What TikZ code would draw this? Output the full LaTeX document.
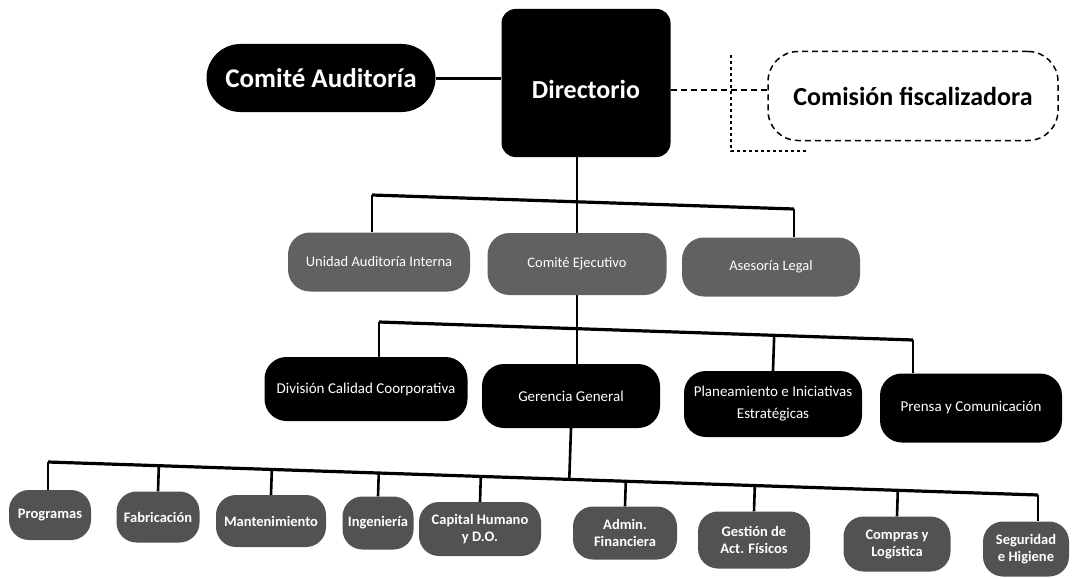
\documentclass[tikz,border=0pt]{standalone}
\usepackage{fontspec}
\setmainfont{Carlito}
\usetikzlibrary{calc}
\begin{document}
\begin{tikzpicture}[x=1pt,y=-1pt,
  blk/.style={fill=black, text=white, align=center, inner sep=0pt},
  gry/.style={fill=black!62, text=white, align=center, inner sep=0pt, rounded corners=22pt, font=\fontsize{14.5}{17}\selectfont},
  mid/.style={fill=black, text=white, align=center, inner sep=0pt, rounded corners=22pt, font=\fontsize{15}{22}\selectfont},
  bot/.style={fill=black!68, text=white, align=center, inner sep=0pt, rounded corners=20pt, font=\bfseries\fontsize{14.5}{17}\selectfont},
  bus/.style={line width=3.2pt},
  stub/.style={line width=2.6pt},
  dashline/.style={line width=1.5pt, dash pattern=on 6pt off 4pt},
  dotline/.style={line width=2.6pt, dash pattern=on 3pt off 3pt},
]
\useasboundingbox (0,0) rectangle (1078,578);
\fill[white] (0,0) rectangle (1078,578);

% top level
\node[blk, rounded corners=14pt, minimum width=169pt, minimum height=148pt,
      text height=30pt, text depth=0pt,
      font=\bfseries\fontsize{26}{30}\selectfont] (dir) at (586,83) {Directorio};
\node[blk, rounded corners=34pt, minimum width=229pt, minimum height=68pt,
      font=\bfseries\fontsize{27}{32}\selectfont] (ca) at (321,78) {Comité Auditoría};
\node[draw=black, dashline, rounded corners=30pt, minimum width=290pt, minimum height=89pt,
      inner sep=0pt, font=\bfseries\fontsize{26}{30}\selectfont] (cf) at (913,96) {Comisión fiscalizadora};

\draw[line width=3pt] (ca.east) -- (ca.east -| dir.west);
\draw[dashline] ($(dir.east)+(0,7)$) -- ($(cf.west)+(0,-6)$);
\coordinate (d1) at (731,55);
\coordinate (d2) at (731,151);
\coordinate (d3) at (806,151);
\draw[dotline] (d1) -- (d2) -- (d3);

% second level
\node[gry, minimum width=182pt, minimum height=59pt] (ua) at (379,262) {Unidad Auditoría Interna};
\node[gry, minimum width=179pt, minimum height=62pt] (ce) at (577,264) {Comité Ejecutivo};
\node[gry, minimum width=178pt, minimum height=59pt] (al) at (771,267) {Asesoría Legal};

\coordinate (b2L) at (372,195);
\coordinate (b2R) at (794,209);
\draw[bus] (b2L) -- (b2R);
\draw[stub] (b2L) -- (b2L |- ua.north);
\draw[stub] (b2R) -- (b2R |- al.north);
\draw[stub] (dir.south -| ce.north) -- (ce.north);

% third level
\node[mid, minimum width=203pt, minimum height=64pt] (dc) at (366,389) {División Calidad Coorporativa};
\node[mid, minimum width=178pt, minimum height=64pt] (gg) at (571,396) {Gerencia General};
\node[mid, minimum width=178pt, minimum height=66pt] (pi) at (773,404) {Planeamiento e Iniciativas\\Estratégicas};
\node[mid, minimum width=182pt, minimum height=69pt] (pc) at (971,408) {Prensa y Comunicación};

\coordinate (b3L) at (379,322);
\coordinate (b3R) at (913,340);
\draw[bus] (b3L) -- (b3R);
\draw[stub] (b3L) -- (b3L |- dc.north);
\draw[stub] (b3R) -- (b3R |- pc.north);
\draw[stub] ($(b3L)!(pi.north)!(b3R)$) -- (pi.north);
\draw[stub] (ce.south) -- (ce.south |- gg.north);

% bottom level
\node[bot, minimum width=82pt,  minimum height=50pt] (prog) at (50,515)  {Programas};
\node[bot, minimum width=83pt,  minimum height=51pt] (fab)  at (158,517) {Fabricación};
\node[bot, minimum width=110pt, minimum height=52pt] (mant) at (271,521) {Mantenimiento};
\node[bot, minimum width=71pt,  minimum height=53pt] (ing)  at (378,523) {Ingeniería};
\node[bot, minimum width=122pt, minimum height=54pt] (cap)  at (480,529) {Capital Humano\\y D.O.};
\node[bot, minimum width=104pt, minimum height=53pt] (adm)  at (625,533) {Admin.\\Financiera};
\node[bot, minimum width=112pt, minimum height=57pt] (gest) at (754,540) {Gestión de\\Act. Físicos};
\node[bot, minimum width=107pt, minimum height=55pt] (comp) at (897,544) {Compras y\\Logística};
\node[bot, minimum width=86pt,  minimum height=55pt] (seg)  at (1026,549) {Seguridad\\e Higiene};

\coordinate (b4L) at (48,462);
\coordinate (b4R) at (1038,495);
\draw[bus] (b4L) -- (b4R);
\draw[stub] (b4L) -- (b4L |- prog.north);
\draw[stub] (b4R) -- (b4R |- seg.north);
\foreach \n in {fab,mant,ing,cap,adm,gest,comp}
  \draw[stub] ($(b4L)!(\n.north)!(b4R)$) -- (\n.north);
\draw[stub] (gg.south) -- ($(b4L)!(gg.south)!(b4R)$);
\end{tikzpicture}
\end{document}
